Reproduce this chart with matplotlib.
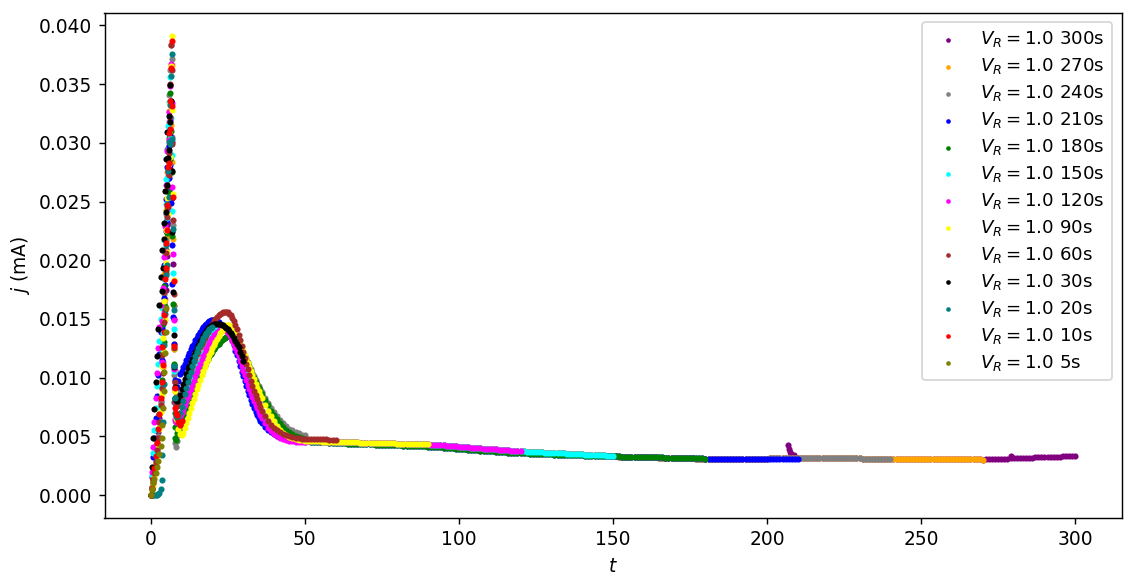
import numpy as np
import matplotlib
matplotlib.use("Agg")
import matplotlib.pyplot as plt

plt.rcParams["font.size"] = 10.5

# ---------------- data (current in microampere, converted to mA when plotted) -------------
durations = [300, 270, 240, 210, 180, 150, 120, 90, 60, 30, 20, 10, 5]
colors = ["purple", "orange", "gray", "blue", "green", "cyan", "magenta",
          "yellow", "brown", "black", "teal", "red", "olive"]

# sample times (s)
t_spike = [0.0, 0.4, 0.8, 1.2, 1.6, 2.0, 2.4, 2.8, 3.2,
           3.5, 3.8, 4.0, 4.2, 4.4, 4.6, 4.8, 5.0, 5.2, 5.4, 5.6, 5.8, 6.0, 6.2, 6.4, 6.6, 6.8,
           7.0, 7.2, 7.4, 7.6, 7.8, 8.0, 8.2]
t_mid = list(np.arange(8.5, 36.01, 0.5)) + list(np.arange(37, 51))
t_tail = list(np.arange(51, 301))

# noisy start-up spike, t = 0 .. 8.2 s
spike_300 = [0.0, 0.7, 1.5, 2.4, 3.3, 4.3, 5.4, 6.6, 8.0, 9.3, 11.2, 13.8, 12.1, 16.4, 19.3, 17.5, 22.8, 20.4, 25.9, 23.1, 28.4, 26.0, 31.2, 27.8, 33.6, 30.1, 25.3, 19.7, 15.0, 12.4, 10.6, 9.6, 9.2]
spike_270 = [0.0, 0.4, 1.0, 1.8, 2.7, 3.7, 4.8, 6.1, 7.6, 9.0, 12.5, 10.9, 15.2, 18.8, 16.7, 21.6, 24.3, 22.0, 27.5, 25.1, 29.8, 32.7, 29.0, 34.9, 31.5, 36.6, 28.4, 21.8, 16.2, 12.9, 10.5, 8.9, 8.4]
spike_240 = [0.0, 0.5, 1.2, 2.0, 2.9, 3.9, 5.0, 6.3, 7.8, 9.4, 13.0, 11.3, 17.1, 14.9, 20.6, 23.9, 21.7, 26.8, 29.5, 27.2, 31.8, 34.1, 30.7, 36.2, 38.3, 37.1, 30.5, 23.0, 16.1, 10.2, 6.3, 4.4, 4.1]
spike_210 = [0.0, 1.5, 3.2, 4.9, 6.6, 8.4, 10.2, 12.0, 13.9, 11.5, 14.2, 12.9, 16.8, 19.6, 17.9, 22.5, 25.2, 23.4, 27.9, 26.1, 29.7, 27.0, 30.6, 28.1, 24.9, 21.3, 18.0, 15.2, 12.9, 11.1, 9.8, 9.0, 8.9]
spike_180 = [0.0, 0.6, 1.4, 2.3, 3.3, 4.4, 5.6, 6.9, 8.4, 9.8, 12.1, 14.6, 13.0, 17.8, 16.1, 20.9, 19.2, 24.6, 22.3, 27.7, 25.8, 30.4, 28.6, 34.2, 31.0, 27.5, 22.1, 16.3, 11.2, 7.9, 5.8, 4.9, 4.7]
spike_150 = [0.0, 1.7, 3.6, 5.5, 7.4, 9.3, 11.2, 13.1, 15.0, 12.4, 15.9, 13.8, 18.4, 21.7, 19.5, 24.8, 26.9, 23.6, 28.7, 31.4, 29.2, 33.5, 30.4, 35.6, 32.1, 29.0, 24.2, 18.9, 14.1, 10.6, 8.3, 7.0, 6.7]
spike_120 = [0.0, 2.0, 4.1, 6.2, 8.3, 10.4, 12.5, 14.3, 16.2, 11.3, 14.8, 17.6, 15.5, 20.3, 22.9, 20.8, 26.4, 24.1, 29.3, 27.5, 32.6, 30.2, 34.8, 31.9, 36.7, 33.4, 26.2, 20.5, 14.9, 10.7, 7.9, 6.5, 6.2]
spike_90 = [0.0, 0.3, 0.8, 1.5, 2.3, 3.2, 4.3, 5.6, 7.1, 8.6, 11.0, 13.4, 12.2, 16.5, 14.9, 19.8, 22.6, 20.7, 25.3, 23.9, 28.2, 30.9, 28.8, 33.4, 36.5, 39.1, 32.8, 25.6, 18.3, 12.4, 8.9, 7.0, 6.6]
spike_60 = [0.0, 0.5, 1.1, 1.9, 2.8, 3.8, 4.9, 6.2, 7.7, 9.1, 11.9, 10.4, 14.7, 17.3, 15.8, 20.6, 18.9, 23.7, 26.3, 24.5, 29.1, 27.3, 32.2, 35.0, 38.3, 36.2, 29.9, 23.4, 17.1, 12.5, 9.6, 8.1, 7.7]
spike_30 = [0.0, 2.4, 4.9, 7.3, 9.6, 11.8, 14.1, 16.2, 18.6, 17.4, 20.9, 19.3, 23.2, 21.8, 25.9, 24.1, 28.6, 26.4, 30.9, 28.7, 32.3, 29.4, 34.9, 31.8, 33.6, 27.6, 22.4, 17.3, 13.6, 10.9, 9.2, 8.3, 8.1]
spike_20 = [0.0, 0.0, 0.0, 0.0, 0.0, 0.0, 0.1, 0.2, 0.5, 1.3, 3.4, 6.2, 9.5, 12.8, 15.4, 18.7, 21.3, 19.6, 24.8, 27.6, 25.4, 30.1, 33.2, 29.9, 35.7, 37.6, 30.3, 22.7, 15.8, 11.0, 8.3, 7.0, 6.7]
spike_10 = [0.0, 0.6, 1.4, 2.3, 3.3, 4.4, 5.6, 6.9, 8.3, 9.6, 12.6, 11.1, 15.3, 13.9, 18.4, 21.5, 19.3, 24.7, 22.6, 27.9, 30.8, 28.3, 33.6, 31.2, 36.4, 38.7, 33.1, 25.4, 18.2, 12.7, 9.1, 7.4, 7.0]
spike_5 = [0.0, 0.5, 1.0, 1.4, 1.9, 2.4, 2.9, 3.5, 4.2, 4.9, 6.0, 7.4, 8.9, 10.5, 12.1, 13.9, 15.9]

# second (broad) peak, t = 8.5 .. 36 (0.5 s) and 37 .. 50 (1 s)
mid_blue = [9.2, 9.7, 10.3, 10.6, 10.9, 11.2, 11.5, 11.8, 12.1, 12.4,
            12.7, 12.9, 13.2, 13.4, 13.65, 13.9, 14.1, 14.3, 14.5, 14.6,
            14.75, 14.85, 14.9, 14.95, 14.95, 14.9, 14.85, 14.7, 14.6, 14.5,
            14.35, 14.2, 14.05, 13.9, 13.7, 13.5, 13.2, 12.8, 12.3, 11.9,
            11.4, 11.0, 10.5, 10.1, 9.7, 9.3, 8.9, 8.5, 8.1, 7.75,
            7.4, 7.1, 6.8, 6.55, 6.3, 6.1,
            5.8, 5.55, 5.35, 5.2, 5.05, 4.95, 4.85, 4.78, 4.72, 4.67, 4.63, 4.6, 4.57, 4.55]
mid_green = [5.3, 5.6, 6.0, 6.4, 6.8, 7.15, 7.5, 7.8, 8.1, 8.4,
             8.75, 9.05, 9.35, 9.65, 9.95, 10.25, 10.5, 10.8, 11.05, 11.3,
             11.55, 11.8, 12.0, 12.2, 12.4, 12.6, 12.75, 12.9, 13.05, 13.2,
             13.3, 13.4, 13.5, 13.55, 13.6, 13.55, 13.45, 13.3, 13.15, 12.95,
             12.7, 12.45, 12.2, 11.95, 11.7, 11.45, 11.15, 10.85, 10.55, 10.25,
             9.95, 9.65, 9.35, 9.1, 8.85, 8.6,
             8.1, 7.65, 7.2, 6.8, 6.45, 6.1, 5.8, 5.55, 5.35, 5.2, 5.05, 4.95, 4.85, 4.75]
mid_gray = [4.6, 5.1, 5.6, 6.1, 6.8, 7.15, 7.5, 7.8, 8.1, 8.4,
            8.75, 9.05, 9.35, 9.65, 9.95, 10.25, 10.5, 10.8, 11.05, 11.3,
            11.55, 11.8, 12.0, 12.2, 12.4, 12.6, 12.75, 12.9, 13.05, 13.2,
            13.3, 13.4, 13.5, 13.55, 13.6, 13.6, 13.5, 13.4, 13.25, 13.05,
            12.85, 12.6, 12.35, 12.1, 11.85, 11.6, 11.3, 11.0, 10.7, 10.4,
            10.1, 9.8, 9.5, 9.25, 9.0, 8.75,
            8.3, 7.85, 7.45, 7.05, 6.7, 6.4, 6.1, 5.85, 5.65, 5.5, 5.35, 5.25, 5.15, 5.1]
mid_cyan = [6.6, 6.7, 6.9, 7.2, 7.5, 7.85, 8.2, 8.55, 8.9, 9.25,
            9.6, 9.95, 10.3, 10.65, 11.0, 11.35, 11.7, 12.0, 12.3, 12.6,
            12.9, 13.15, 13.4, 13.6, 13.8, 13.95, 14.1, 14.2, 14.3, 14.35,
            14.35, 14.3, 14.2, 14.05, 13.85, 13.6, 13.35, 13.05, 12.75, 12.4,
            12.05, 11.7, 11.35, 11.0, 10.6, 10.2, 9.85, 9.5, 9.15, 8.8,
            8.45, 8.1, 7.8, 7.5, 7.2, 6.95,
            6.5, 6.1, 5.8, 5.5, 5.3, 5.1, 4.95, 4.85, 4.77, 4.7, 4.66, 4.63, 4.61, 4.6]
mid_magenta = [6.2, 6.4, 6.7, 7.0, 7.3, 7.65, 8.0, 8.35, 8.7, 9.05,
               9.4, 9.75, 10.1, 10.45, 10.8, 11.15, 11.5, 11.8, 12.1, 12.4,
               12.7, 12.95, 13.2, 13.4, 13.6, 13.75, 13.9, 14.0, 14.1, 14.15,
               14.15, 14.1, 14.0, 13.9, 13.7, 13.45, 13.15, 12.85, 12.5, 12.15,
               11.8, 11.4, 11.0, 10.6, 10.2, 9.8, 9.4, 9.05, 8.7, 8.35,
               8.0, 7.7, 7.4, 7.1, 6.85, 6.6,
               6.15, 5.75, 5.45, 5.2, 5.0, 4.85, 4.75, 4.67, 4.61, 4.57, 4.54, 4.52, 4.5, 4.49]
mid_yellow = [6.4, 5.6, 5.2, 5.1, 5.3, 5.7, 6.15, 6.6, 7.0, 7.4,
              7.8, 8.2, 8.6, 9.0, 9.4, 9.8, 10.2, 10.55, 10.9, 11.25,
              11.6, 11.9, 12.2, 12.5, 12.8, 13.05, 13.3, 13.55, 13.8, 14.0,
              14.2, 14.4, 14.5, 14.5, 14.45, 14.35, 14.2, 14.0, 13.75, 13.5,
              13.2, 12.9, 12.6, 12.3, 11.95, 11.6, 11.25, 10.9, 10.55, 10.2,
              9.85, 9.5, 9.15, 8.85, 8.55, 8.25,
              7.7, 7.2, 6.75, 6.3, 5.9, 5.55, 5.25, 5.1, 4.95, 4.85, 4.77, 4.71, 4.66, 4.63]
mid_brown = [7.6, 7.7, 8.0, 8.4, 8.8, 9.2, 9.6, 10.0, 10.35, 10.7,
             11.05, 11.4, 11.7, 12.0, 12.3, 12.6, 12.9, 13.15, 13.4, 13.65,
             13.9, 14.15, 14.4, 14.6, 14.8, 15.0, 15.15, 15.3, 15.4, 15.5,
             15.55, 15.6, 15.6, 15.55, 15.45, 15.3, 15.05, 14.8, 14.45, 14.1,
             13.65, 13.2, 12.7, 12.2, 11.7, 11.2, 10.7, 10.2, 9.75, 9.3,
             8.9, 8.5, 8.15, 7.8, 7.5, 7.2,
             6.7, 6.3, 6.0, 5.7, 5.5, 5.35, 5.2, 5.1, 5.0, 4.95, 4.9, 4.85, 4.8, 4.78]
mid_black = [8.0, 8.1, 8.5, 9.0, 9.45, 9.9, 10.3, 10.7, 11.0, 11.3,
             11.6, 11.9, 12.2, 12.5, 12.8, 13.1, 13.4, 13.6, 13.8, 14.0,
             14.2, 14.3, 14.4, 14.5, 14.55, 14.6, 14.6, 14.6, 14.55, 14.5,
             14.45, 14.35, 14.25, 14.1, 13.95, 13.8, 13.6, 13.4, 13.1, 12.85,
             12.6, 12.2, 11.8, 11.4]
mid_teal = [6.6, 6.7, 7.0, 7.5, 8.0, 8.6, 9.1, 9.6, 10.1, 10.5,
            11.0, 11.4, 11.8, 12.2, 12.5, 12.8, 13.1, 13.4, 13.6, 13.8,
            14.0, 14.1, 14.2, 14.3]
mid_red = [6.8, 6.2, 6.0, 6.3]

# slow tails, t = 51 .. 300 s (1 s)
tail_a = [4.60, 4.59, 4.58, 4.57, 4.57, 4.56, 4.55, 4.54, 4.54, 4.53,
          4.52, 4.51, 4.51, 4.50, 4.49, 4.49, 4.48, 4.47, 4.47, 4.46,
          4.45, 4.45, 4.44, 4.43, 4.43, 4.42, 4.41, 4.41, 4.40, 4.39,
          4.38, 4.38, 4.37, 4.36, 4.36, 4.35, 4.34, 4.34, 4.33, 4.32,
          4.30, 4.28, 4.26, 4.24, 4.22, 4.20, 4.18, 4.16, 4.14, 4.12,
          4.10, 4.08, 4.06, 4.04, 4.02, 4.00, 3.98, 3.96, 3.94, 3.92,
          3.90, 3.88, 3.86, 3.84, 3.82, 3.80, 3.78, 3.76, 3.74, 3.72,
          3.71, 3.70, 3.68, 3.67, 3.66, 3.64, 3.63, 3.62, 3.60, 3.59,
          3.58, 3.56, 3.55, 3.54, 3.52, 3.51, 3.50, 3.48, 3.47, 3.46,
          3.44, 3.43, 3.42, 3.40, 3.39, 3.38, 3.37, 3.36, 3.35, 3.34,
          3.29, 3.28, 3.28, 3.27, 3.26, 3.25, 3.25, 3.24, 3.23, 3.23,
          3.22, 3.21, 3.21, 3.20, 3.19, 3.18, 3.18, 3.17, 3.16, 3.16,
          3.15, 3.14, 3.14, 3.13, 3.12, 3.12, 3.11, 3.11, 3.10, 3.10,
          3.09, 3.09, 3.09, 3.08, 3.08, 3.08, 3.08, 3.07, 3.07, 3.07,
          3.08, 3.08, 3.08, 3.09, 3.09, 3.10, 3.10, 3.10, 3.11, 3.11,
          3.12, 3.12, 3.12, 3.13, 3.13, 3.14, 3.14, 3.14, 3.15, 3.15,
          3.16, 3.16, 3.16, 3.15, 3.15, 3.15, 3.15, 3.14, 3.14, 3.14,
          3.14, 3.13, 3.13, 3.13, 3.13, 3.12, 3.12, 3.12, 3.12, 3.12,
          3.11, 3.11, 3.11, 3.11, 3.11, 3.10, 3.10, 3.10, 3.10, 3.10,
          3.10, 3.10, 3.09, 3.09, 3.09, 3.09, 3.08, 3.08, 3.08, 3.07,
          3.07, 3.07, 3.07, 3.06, 3.06, 3.06, 3.06, 3.05, 3.05, 3.05,
          3.05, 3.04, 3.04, 3.04, 3.04, 3.03, 3.03, 3.03, 3.03, 3.02,
          3.04, 3.05, 3.06, 3.07, 3.08, 3.09, 3.10, 3.11, 3.12, 3.13,
          3.14, 3.15, 3.16, 3.17, 3.18, 3.19, 3.20, 3.21, 3.22, 3.23,
          3.24, 3.25, 3.26, 3.27, 3.28, 3.29, 3.30, 3.31, 3.32, 3.33]
tail_b = [4.58, 4.56, 4.55, 4.53, 4.52, 4.50, 4.49, 4.47, 4.46, 4.44,
          4.42, 4.41, 4.40, 4.39, 4.38, 4.37, 4.36, 4.35, 4.34, 4.33,
          4.32, 4.31, 4.30, 4.29, 4.28, 4.27, 4.26, 4.25, 4.24, 4.23,
          4.22, 4.21, 4.20, 4.19, 4.18, 4.17, 4.16, 4.15, 4.14, 4.13,
          4.11, 4.09, 4.07, 4.05, 4.03, 4.01, 3.99, 3.97, 3.95, 3.93,
          3.91, 3.89, 3.87, 3.85, 3.83, 3.81, 3.79, 3.77, 3.75, 3.73,
          3.71, 3.69, 3.67, 3.65, 3.63, 3.62, 3.61, 3.59, 3.58, 3.56,
          3.55, 3.54, 3.53, 3.52, 3.51, 3.50, 3.49, 3.48, 3.47, 3.46,
          3.45, 3.44, 3.43, 3.42, 3.42, 3.41, 3.40, 3.39, 3.38, 3.37,
          3.36, 3.36, 3.35, 3.34, 3.34, 3.33, 3.32, 3.31, 3.31, 3.30,
          3.30, 3.29, 3.28, 3.28, 3.27, 3.27, 3.26, 3.25, 3.25, 3.24,
          3.23, 3.23, 3.22, 3.21, 3.21, 3.20, 3.19, 3.19, 3.18, 3.17,
          3.17, 3.16, 3.15, 3.15, 3.14, 3.13, 3.13, 3.12, 3.12, 3.11,
          3.11, 3.10, 3.10, 3.10, 3.09, 3.09, 3.09, 3.08, 3.08, 3.08,
          3.08, 3.07, 3.07, 3.07, 3.07, 3.06, 3.06, 3.06, 3.06, 3.06,
          3.05, 3.05, 3.05, 3.05, 3.05, 3.04, 3.04, 3.04, 3.04, 3.04]
tail_brown = [4.77, 4.76, 4.76, 4.75, 4.75, 4.74, 4.74, 4.73, 4.73, 4.72]

# isolated outliers of the 300 s run
glitch_t = [206.8, 207.0, 207.3, 207.9, 208.6, 279.0]
glitch_j = [4.23, 3.89, 3.66, 3.52, 3.45, 3.36]

# ---------------- assemble ----------------
t_all = np.array(t_spike + t_mid + t_tail, dtype=float)
series_j = [
    spike_300 + mid_cyan + tail_a[:250],
    spike_270 + mid_cyan + tail_a[:220],
    spike_240 + mid_gray + tail_a[:190],
    spike_210 + mid_blue + tail_b[:160],
    spike_180 + mid_green + tail_b[:130],
    spike_150 + mid_cyan + tail_a[:100],
    spike_120 + mid_magenta + tail_a[:70],
    spike_90 + mid_yellow + tail_a[:40],
    spike_60 + mid_brown + tail_brown,
    spike_30 + mid_black,
    spike_20 + mid_teal,
    spike_10 + mid_red,
    spike_5,
]

fig = plt.figure(figsize=(1136 / 128, 587 / 128), dpi=128)
ax = fig.add_axes([104.5 / 1136, 69.0 / 587, 1017.0 / 1136, 505.0 / 587])

for d, c, jv in zip(durations, colors, series_j):
    jv = np.array(jv, dtype=float)
    tv = t_all[:len(jv)]
    if d == 300:
        tv = np.concatenate([tv, glitch_t])
        jv = np.concatenate([jv, glitch_j])
    ax.scatter(tv, jv / 1000.0, s=12, color=c, linewidths=0,
               label=rf"$V_R = 1.0$ {d}s")

ax.set_xlabel(r"$t$")
ax.set_ylabel(r"$j$ (mA)")
ax.legend(loc="upper right", fontsize=10.3, labelspacing=0.38, markerscale=0.75)

fig.savefig("out.png", dpi=128)
